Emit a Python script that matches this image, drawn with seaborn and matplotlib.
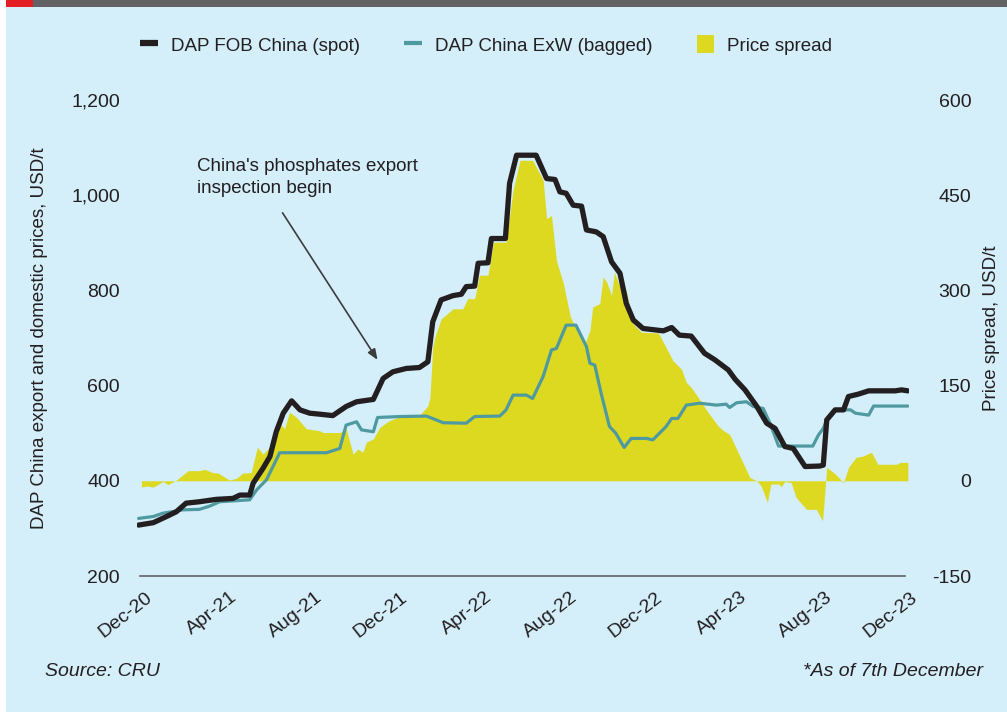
import pandas as pd
import matplotlib
matplotlib.use("Agg")
import matplotlib.pyplot as plt
import matplotlib.dates as mdates
from matplotlib.lines import Line2D
from matplotlib.patches import Patch, Rectangle
from matplotlib.transforms import ScaledTranslation
import seaborn as sns

# DAP FOB China (spot), USD/t
fob_dates = ["2020-11-29", "2020-12-20", "2021-01-08", "2021-01-22", "2021-02-05", "2021-02-24",
             "2021-03-20", "2021-04-13", "2021-04-23", "2021-05-07", "2021-05-12", "2021-05-26",
             "2021-06-05", "2021-06-14", "2021-06-24", "2021-07-06", "2021-07-18", "2021-08-01",
             "2021-08-15", "2021-09-03", "2021-09-22", "2021-10-07", "2021-10-31", "2021-11-14",
             "2021-11-28", "2021-12-17", "2022-01-05", "2022-01-17", "2022-01-24", "2022-02-05",
             "2022-02-22", "2022-03-06", "2022-03-13", "2022-03-25", "2022-03-30", "2022-04-13",
             "2022-04-18", "2022-05-08", "2022-05-14", "2022-05-24", "2022-06-21", "2022-07-06",
             "2022-07-18", "2022-07-25", "2022-08-03", "2022-08-13", "2022-08-25", "2022-09-01",
             "2022-09-15", "2022-09-25", "2022-10-07", "2022-10-19", "2022-10-28", "2022-11-07",
             "2022-11-21", "2022-12-20", "2023-01-01", "2023-01-12", "2023-01-29", "2023-02-17",
             "2023-03-04", "2023-03-23", "2023-04-02", "2023-04-16", "2023-05-03", "2023-05-17",
             "2023-05-29", "2023-06-12", "2023-06-24", "2023-07-11", "2023-08-01", "2023-08-06",
             "2023-08-11", "2023-08-23", "2023-09-04", "2023-09-11", "2023-09-25", "2023-10-10",
             "2023-11-17", "2023-11-26", "2023-12-05"]
fob_price = [307, 312, 325, 335, 353, 356,
             361, 363, 370, 370, 395, 426,
             451, 503, 542, 568, 549, 542,
             540, 537, 556, 566, 571, 615,
             629, 636, 638, 650, 734, 780,
             789, 792, 808, 809, 857, 858,
             909, 909, 1025, 1084, 1084, 1035,
             1033, 1007, 1004, 979, 977, 927,
             923, 913, 860, 836, 773, 738,
             720, 715, 722, 706, 704, 668,
             654, 633, 613, 591, 556, 521,
             510, 472, 468, 430, 431, 433,
             528, 549, 549, 577, 582, 589,
             589, 591, 589]

# DAP China ExW (bagged), USD/t
exw_dates = ["2020-11-29", "2020-12-20", "2021-01-03", "2021-02-01", "2021-02-24", "2021-03-11",
             "2021-03-25", "2021-05-07", "2021-05-17", "2021-05-31", "2021-06-19", "2021-08-25",
             "2021-09-13", "2021-09-22", "2021-10-07", "2021-10-14", "2021-10-31", "2021-11-06",
             "2021-12-08", "2022-01-15", "2022-02-08", "2022-03-13", "2022-03-25", "2022-04-30",
             "2022-05-09", "2022-05-19", "2022-06-07", "2022-06-16", "2022-07-01", "2022-07-13",
             "2022-07-20", "2022-08-03", "2022-08-17", "2022-09-01", "2022-09-06", "2022-09-13",
             "2022-09-22", "2022-10-04", "2022-10-13", "2022-10-25", "2022-11-04", "2022-11-26",
             "2022-12-05", "2022-12-24", "2023-01-01", "2023-01-10", "2023-01-22", "2023-02-10",
             "2023-03-06", "2023-03-20", "2023-03-25", "2023-04-04", "2023-04-18", "2023-04-28",
             "2023-05-12", "2023-05-22", "2023-06-03", "2023-07-22", "2023-07-30", "2023-08-06",
             "2023-08-11", "2023-08-23", "2023-09-14", "2023-09-21", "2023-10-10", "2023-10-17",
             "2023-12-05"]
exw_price = [321, 325, 332, 339, 340, 347,
             356, 360, 381, 402, 459, 459,
             468, 517, 524, 507, 503, 533,
             535, 536, 522, 521, 535, 536,
             549, 580, 580, 573, 619, 675,
             678, 727, 727, 682, 647, 643,
             584, 514, 500, 470, 489, 489,
             486, 514, 531, 531, 559, 563,
             559, 561, 554, 564, 566, 556,
             552, 520, 473, 473, 496, 510,
             528, 549, 549, 542, 538, 557,
             557]

# Price spread, USD/t (right axis)
spread_dates = ["2020-12-03", "2020-12-11", "2020-12-20", "2021-01-03", "2021-01-10", "2021-01-22",
                "2021-02-08", "2021-02-24", "2021-03-04", "2021-03-15", "2021-03-23", "2021-04-08",
                "2021-04-18", "2021-04-27", "2021-05-09", "2021-05-18", "2021-05-26", "2021-06-09",
                "2021-06-19", "2021-06-26", "2021-07-03", "2021-07-13", "2021-07-27", "2021-08-15",
                "2021-08-20", "2021-09-13", "2021-09-22", "2021-10-02", "2021-10-09", "2021-10-16",
                "2021-10-21", "2021-10-31", "2021-11-09", "2021-11-23", "2021-12-08", "2022-01-05",
                "2022-01-17", "2022-01-20", "2022-01-24", "2022-01-27", "2022-02-05", "2022-02-22",
                "2022-03-08", "2022-03-15", "2022-03-25", "2022-04-01", "2022-04-13", "2022-04-21",
                "2022-05-09", "2022-05-19", "2022-05-29", "2022-06-16", "2022-07-01", "2022-07-06",
                "2022-07-13", "2022-07-20", "2022-07-30", "2022-08-09", "2022-08-21", "2022-08-30",
                "2022-09-06", "2022-09-10", "2022-09-20", "2022-09-25", "2022-09-30", "2022-10-07",
                "2022-10-11", "2022-10-19", "2022-10-28", "2022-11-07", "2022-11-19", "2022-12-13",
                "2022-12-24", "2023-01-03", "2023-01-15", "2023-01-22", "2023-01-29", "2023-02-10",
                "2023-02-22", "2023-03-08", "2023-03-16", "2023-03-25", "2023-04-06", "2023-04-23",
                "2023-05-03", "2023-05-09", "2023-05-18", "2023-05-23", "2023-06-03", "2023-06-07",
                "2023-06-12", "2023-06-21", "2023-06-28", "2023-07-13", "2023-07-27", "2023-08-05",
                "2023-08-11", "2023-08-23", "2023-09-04", "2023-09-11", "2023-09-22", "2023-10-02",
                "2023-10-14", "2023-10-23", "2023-11-19", "2023-11-24", "2023-12-05"]
spread_value = [-10, -8, -10, -1, -6, 1,
                16, 16, 18, 13, 12, 1,
                4, 12, 13, 53, 42, 58,
                90, 82, 108, 100, 82, 79,
                76, 76, 82, 42, 50, 45,
                61, 66, 84, 95, 101, 103,
                118, 131, 210, 226, 255, 271,
                271, 287, 287, 324, 324, 376,
                376, 458, 505, 505, 474, 413,
                418, 347, 311, 258, 232, 216,
                237, 274, 279, 321, 313, 292,
                329, 305, 300, 247, 234, 233,
                210, 189, 176, 155, 147, 128,
                108, 87, 79, 73, 45, 5,
                0, -8, -34, -5, -5, -9,
                -1, -3, -26, -45, -45, -63,
                21, 11, -3, 21, 37, 39,
                45, 26, 26, 29, 29]

x_ticks = ["2020-12-01", "2021-04-01", "2021-08-01", "2021-12-01", "2022-04-01",
           "2022-08-01", "2022-12-01", "2023-04-01", "2023-08-01", "2023-12-01"]
left_ticks = [200, 400, 600, 800, 1000, 1200]
right_ticks = [-150, 0, 150, 300, 450, 600]

fob = pd.DataFrame({"date": pd.to_datetime(fob_dates), "price": fob_price})
exw = pd.DataFrame({"date": pd.to_datetime(exw_dates), "price": exw_price})
spread = pd.DataFrame({"date": pd.to_datetime(spread_dates), "value": spread_value})

bg = "#d4eefa"
ink = "#231f20"
yellow = "#dcd920"
teal = "#4f9aa0"

sns.set_theme(style="white", rc={"axes.facecolor": bg, "figure.facecolor": bg})
plt.rcParams["font.family"] = ["Liberation Sans", "DejaVu Sans"]

fig = plt.figure(figsize=(10.07, 7.12), dpi=100)
ax = fig.add_axes([0.13625, 0.19101, 0.76663, 0.66854])
ax2 = ax.twinx()

# spread area on the right axis, drawn under the price lines
ax2.fill_between(spread["date"], 0, spread["value"], color=yellow, linewidth=0)
ax2.set_ylim(-150, 600)

sns.lineplot(data=exw, x="date", y="price", ax=ax, color=teal, linewidth=2.3,
             solid_joinstyle="round", solid_capstyle="round")
sns.lineplot(data=fob, x="date", y="price", ax=ax, color=ink, linewidth=3.8,
             solid_joinstyle="round", solid_capstyle="round")
ax.set_ylim(200, 1200)
ax.set_xlim(pd.Timestamp("2020-11-27"), pd.Timestamp("2023-12-07"))
ax.set_zorder(ax2.get_zorder() + 1)
ax.patch.set_visible(False)

for a in (ax, ax2):
    for s in a.spines.values():
        s.set_visible(False)
ax.spines["bottom"].set_visible(True)
ax.spines["bottom"].set_color("#555555")
ax.spines["bottom"].set_linewidth(1.1)
ax.spines["bottom"].set_bounds(mdates.date2num(pd.Timestamp(x_ticks[0])),
                               mdates.date2num(pd.Timestamp(x_ticks[-1])))

ax.set_xticks(pd.to_datetime(x_ticks))
ax.xaxis.set_major_formatter(mdates.DateFormatter("%b-%y"))
ax.tick_params(axis="x", length=0, pad=9, labelsize=14, labelcolor=ink)
shift = ScaledTranslation(5 / 100, 0, fig.dpi_scale_trans)
for lab in ax.get_xticklabels():
    lab.set_rotation(38)
    lab.set_ha("right")
    lab.set_va("top")
    lab.set_rotation_mode("anchor")
    lab.set_transform(lab.get_transform() + shift)

ax.set_yticks(left_ticks)
ax.set_yticklabels([f"{v:,}" for v in left_ticks])
ax.tick_params(axis="y", length=0, pad=12.4, labelsize=14, labelcolor=ink)
ax2.set_yticks(right_ticks)
ax2.set_yticklabels([str(v) for v in right_ticks])
ax2.tick_params(axis="y", length=0, pad=44.6, labelsize=14, labelcolor=ink)
for lab in ax2.get_yticklabels():
    lab.set_ha("right")

ax.set_xlabel("")
ax.set_ylabel("DAP China export and domestic prices, USD/t", fontsize=13.5, color=ink)
ax.yaxis.set_label_coords(-0.115, 0.5)
ax2.set_ylabel("Price spread, USD/t", fontsize=13.5, color=ink)
ax2.yaxis.set_label_coords(1.096, 0.52)

# annotation
fig.text(197 / 1007, 1 - 158 / 712, "China's phosphates export\ninspection begin",
         ha="left", va="top", fontsize=13.5, color=ink, linespacing=1.42)
ax.annotate("", xy=(pd.Timestamp("2021-11-06"), 654), xytext=(pd.Timestamp("2021-06-23"), 963),
            arrowprops=dict(arrowstyle="-|>,head_length=0.45,head_width=0.18", color="#3c3c3c",
                            lw=1.2, mutation_scale=14, shrinkA=0, shrinkB=0))

handles = [Line2D([], [], color=ink, lw=4.5, solid_capstyle="butt"),
           Line2D([], [], color=teal, lw=3, solid_capstyle="butt"),
           Patch(facecolor=yellow, edgecolor="none")]
labels = ["DAP FOB China (spot)", "DAP China ExW (bagged)", "Price spread"]
fig.legend(handles, labels, loc="center left", bbox_to_anchor=(140 / 1007, 1 - 45 / 712),
           ncol=3, frameon=False, fontsize=13.5, handlelength=0.95, handleheight=1.05,
           handletextpad=0.7, columnspacing=2.35, borderaxespad=0, borderpad=0,
           labelcolor=ink)

fig.text(45 / 1007, 1 - 672 / 712, "Source: CRU", style="italic", fontsize=14,
         color=ink, va="center", ha="left")
fig.text(983 / 1007, 1 - 672 / 712, "*As of 7th December", style="italic", fontsize=14,
         color=ink, va="center", ha="right")

# frame decorations: white strip, red tab and grey top bar
fig.add_artist(Rectangle((0, 0), 6 / 1007, 1, transform=fig.transFigure,
                         facecolor="white", edgecolor="none"))
fig.add_artist(Rectangle((33 / 1007, 1 - 7 / 712), 1, 7 / 712, transform=fig.transFigure,
                         facecolor="#626265", edgecolor="none"))
fig.add_artist(Rectangle((6 / 1007, 1 - 7 / 712), 27 / 1007, 7 / 712, transform=fig.transFigure,
                         facecolor="#e31e24", edgecolor="none"))

fig.savefig("out.png", dpi=100, facecolor=bg)
